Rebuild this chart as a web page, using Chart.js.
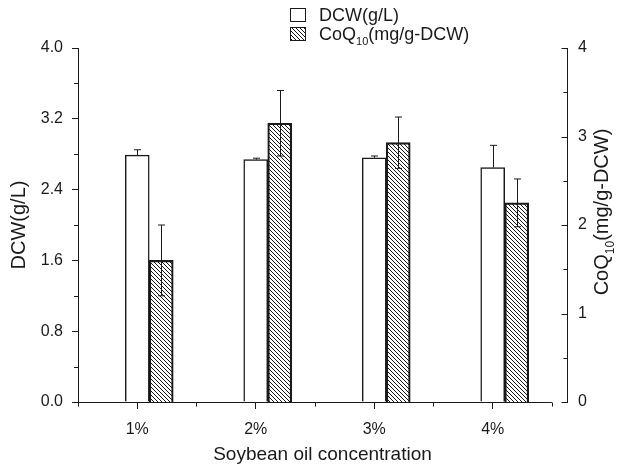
<!DOCTYPE html>
<html>
<head>
<meta charset="utf-8">
<script src="https://cdn.jsdelivr.net/npm/chart.js@4.4.0/dist/chart.umd.min.js"></script>
<style>
  html, body { margin: 0; padding: 0; background: #fff; }
  #wrap { position: relative; width: 621px; height: 469px; }
</style>
</head>
<body>
<div id="wrap"><canvas id="chart" width="621" height="469"></canvas></div>
<script>
// Data
const categories = ['1%', '2%', '3%', '4%'];
const dcw = [2.79, 2.74, 2.76, 2.65];
const dcwErr = [0.06, 0.015, 0.02, 0.25];
const coq = [1.60, 3.15, 2.93, 2.25];
const coqErr = [0.40, 0.37, 0.29, 0.27];
const leftTicks = [0, 0.8, 1.6, 2.4, 3.2, 4.0];
const rightTicks = [0, 1, 2, 3, 4];
const coqLabel = ['CoQ', '10', '(mg/g-DCW)'];

const FONT = "'Liberation Sans', Arial, Helvetica, sans-serif";
const INK = '#1a1a1a';

const ctx = document.getElementById('chart');
const c2d = ctx.getContext('2d');

// diagonal "\\\" hatch
function hatchPattern() {
  const t = document.createElement('canvas');
  t.width = 4; t.height = 4;
  const p = t.getContext('2d');
  p.strokeStyle = INK;
  p.lineWidth = 1;
  p.beginPath();
  p.moveTo(-1, -1); p.lineTo(5, 5);
  p.moveTo(-1, 3); p.lineTo(1, 5);
  p.moveTo(3, -1); p.lineTo(5, 1);
  p.stroke();
  return c2d.createPattern(t, 'repeat');
}
const hatch = hatchPattern();

// text with a subscript middle part
function drawSub(g, parts, x, y, size, align) {
  const big = size + 'px ' + FONT;
  const small = Math.round(size * 0.62) + 'px ' + FONT;
  g.font = big; const w0 = g.measureText(parts[0]).width;
  const w2 = g.measureText(parts[2]).width;
  g.font = small; const w1 = g.measureText(parts[1]).width;
  const total = w0 + w1 + w2;
  let sx = align === 'center' ? x - total / 2 : x;
  g.textAlign = 'left';
  g.textBaseline = 'alphabetic';
  g.font = big; g.fillText(parts[0], sx, y);
  g.font = small; g.fillText(parts[1], sx + w0, y + size * 0.28);
  g.font = big; g.fillText(parts[2], sx + w0 + w1, y);
}

const line = (g, x1, y1, x2, y2) => {
  g.beginPath(); g.moveTo(x1, y1); g.lineTo(x2, y2); g.stroke();
};

const extras = {
  id: 'extras',
  afterDatasetsDraw(chart) {
    const g = chart.ctx;
    g.save();
    g.strokeStyle = INK;
    g.lineWidth = 1;
    chart.data.datasets.forEach((ds, i) => {
      if (!ds.err) return;
      const scale = chart.scales[ds.yAxisID];
      chart.getDatasetMeta(i).data.forEach((bar, j) => {
        const v = ds.data[j].y;
        const x = Math.round(bar.x) + 0.5;
        const top = scale.getPixelForValue(v + ds.err[j]);
        const bot = ds.errBoth ? scale.getPixelForValue(v - ds.err[j]) : bar.y;
        line(g, x, top, x, bot);
        line(g, x - 3.5, top, x + 3.5, top);
        if (ds.errBoth) line(g, x - 3.5, bot, x + 3.5, bot);
      });
    });
    g.restore();
  },
  afterDraw(chart) {
    const g = chart.ctx;
    const { x, y, y1 } = chart.scales;
    const area = chart.chartArea;
    g.save();
    g.strokeStyle = INK;
    g.fillStyle = INK;
    g.lineWidth = 1;

    // x axis line stops at the last category edge
    const xl = x.getPixelForValue(0.5);
    const xr = x.getPixelForValue(categories.length + 0.5);
    const by = Math.round(area.bottom) + 0.5;
    line(g, xl, by, xr, by);
    for (let k = 0; k <= categories.length; k++) {
      const px = Math.round(x.getPixelForValue(k + 0.5)) + 0.5;
      line(g, px, by, px, by + 4);
    }
    // left minor ticks
    for (let k = 0; k < leftTicks.length - 1; k++) {
      const py = Math.round(y.getPixelForValue((leftTicks[k] + leftTicks[k + 1]) / 2)) + 0.5;
      line(g, area.left - 4, py, area.left, py);
    }
    // right axis ticks point inward
    const rx = Math.round(area.right) + 0.5;
    rightTicks.forEach((v, k) => {
      const py = Math.round(y1.getPixelForValue(v)) + 0.5;
      line(g, rx - 6, py, rx, py);
      if (k < rightTicks.length - 1) {
        const pm = Math.round(y1.getPixelForValue(v + 0.5)) + 0.5;
        line(g, rx - 4, pm, rx, pm);
      }
    });

    // right axis title, bottom to top
    g.save();
    g.translate(608, 212);
    g.rotate(-Math.PI / 2);
    drawSub(g, coqLabel, 0, 0, 20, 'center');
    g.restore();

    // legend
    const lx = 290, ly = [8, 27];
    g.fillStyle = '#fff';
    g.fillRect(lx, ly[0], 15, 13);
    g.strokeRect(lx + 0.5, ly[0] + 0.5, 15, 13);
    g.fillStyle = hatch;
    g.fillRect(lx, ly[1], 15, 13);
    g.strokeRect(lx + 0.5, ly[1] + 0.5, 15, 13);
    g.fillStyle = INK;
    g.font = '18px ' + FONT;
    g.textBaseline = 'alphabetic';
    g.textAlign = 'left';
    g.fillText(chart.data.datasets[1].label, 319, ly[0] + 13);
    drawSub(g, coqLabel, 319, ly[1] + 13, 18, 'left');
    g.restore();
  },
};

const chart = new Chart(ctx, {
  type: 'bar',
  data: {
    datasets: [
      {
        // empty slot so DCW sits on the tick and CoQ10 to its right
        label: '',
        data: categories.map((c, i) => ({ x: i + 1, y: null })),
        yAxisID: 'y',
        backgroundColor: 'rgba(0,0,0,0)',
      },
      {
        label: 'DCW(g/L)',
        data: dcw.map((v, i) => ({ x: i + 1, y: v })),
        err: dcwErr,
        errBoth: false,
        yAxisID: 'y',
        backgroundColor: '#ffffff',
        borderColor: INK,
        borderWidth: 1.5,
      },
      {
        label: coqLabel.join(''),
        data: coq.map((v, i) => ({ x: i + 1, y: v })),
        err: coqErr,
        errBoth: true,
        yAxisID: 'y1',
        backgroundColor: hatch,
        borderColor: INK,
        borderWidth: 1.5,
      },
    ],
  },
  options: {
    responsive: false,
    animation: false,
    barThickness: 24,
    layout: { padding: { top: 48, left: 0, right: 0, bottom: 0 } },
    plugins: {
      legend: { display: false },
      tooltip: { enabled: false },
    },
    scales: {
      x: {
        type: 'linear',
        offset: false,
        min: 0.5,
        // a little room after the last category, before the right axis
        max: 4.627,
        afterBuildTicks: (s) => { s.ticks = categories.map((c, i) => ({ value: i + 1 })); },
        afterFit: (s) => { s.height = 67; },
        ticks: {
          callback: (v) => categories[v - 1],
          color: INK,
          font: { family: FONT, size: 16 },
          padding: 11,
          maxRotation: 0,
        },
        grid: { drawOnChartArea: false, offset: false, tickLength: 7, color: INK },
        border: { display: false },
        title: {
          display: true,
          text: 'Soybean oil concentration',
          color: INK,
          font: { family: FONT, size: 19 },
          padding: { top: 0, bottom: 3 },
        },
      },
      y: {
        position: 'left',
        min: 0,
        max: 4,
        afterBuildTicks: (s) => { s.ticks = leftTicks.map((v) => ({ value: v })); },
        afterFit: (s) => { s.width = 78; },
        ticks: {
          callback: (v) => v.toFixed(1),
          color: INK,
          font: { family: FONT, size: 16 },
          padding: 9,
        },
        grid: { drawOnChartArea: false, tickLength: 6, color: INK },
        border: { color: INK, width: 1 },
        title: {
          display: true,
          text: 'DCW(g/L)',
          color: INK,
          font: { family: FONT, size: 20 },
          padding: { top: 7, bottom: 0 },
        },
      },
      y1: {
        position: 'right',
        min: 0,
        max: 4,
        afterBuildTicks: (s) => { s.ticks = rightTicks.map((v) => ({ value: v })); },
        afterFit: (s) => { s.width = 54; },
        ticks: {
          color: INK,
          font: { family: FONT, size: 16 },
          padding: 5,
        },
        grid: { display: false, tickLength: 6 },
        border: { color: INK, width: 1 },
      },
    },
  },
  plugins: [extras],
});
</script>
</body>
</html>
